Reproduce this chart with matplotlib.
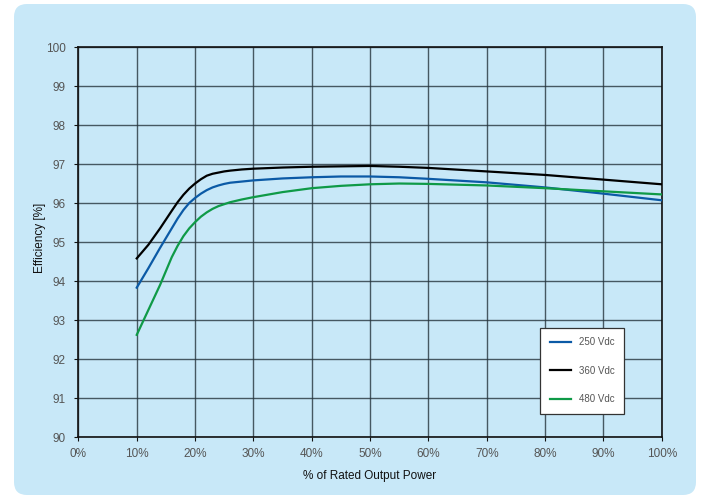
import numpy as np
import matplotlib.pyplot as plt
from matplotlib.patches import FancyBboxPatch

plt.rcParams['font.family'] = ['Liberation Sans', 'DejaVu Sans']

# load (% of rated output power) and efficiency readings
load = [10, 12, 14, 16, 17, 18, 19, 20, 21, 22, 23, 24, 25, 26, 28, 30,
        35, 40, 45, 50, 55, 60, 70, 80, 90, 100]
eff_250 = [93.83, 94.33, 94.85, 95.35, 95.60, 95.82, 96.00, 96.13, 96.24, 96.33, 96.40, 96.45,
           96.49, 96.52, 96.55, 96.58, 96.63, 96.66, 96.68, 96.68, 96.66, 96.62, 96.53,
           96.40, 96.24, 96.07]
eff_360 = [94.58, 94.93, 95.35, 95.80, 96.02, 96.21, 96.37, 96.50, 96.61, 96.70, 96.75, 96.78,
           96.81, 96.83, 96.86, 96.88, 96.91, 96.93, 96.94, 96.95, 96.93, 96.90, 96.81,
           96.72, 96.60, 96.48]
eff_480 = [92.62, 93.26, 93.90, 94.61, 94.90, 95.15, 95.35, 95.51, 95.65, 95.76, 95.85, 95.92,
           95.97, 96.02, 96.09, 96.15, 96.28, 96.38, 96.44, 96.48, 96.50, 96.49, 96.45,
           96.38, 96.30, 96.22]
labels = ["250 Vdc", "360 Vdc", "480 Vdc"]
colors = ["#0b5aa6", "#000000", "#0f9a47"]

bg = "#c8e8f8"

fig = plt.figure(figsize=(7.02, 4.99), dpi=100, facecolor="w")
card = FancyBboxPatch((0.14, 0.04), 6.82, 4.91, boxstyle="round,pad=0,rounding_size=0.13",
                      transform=fig.dpi_scale_trans, facecolor=bg, edgecolor="none", zorder=-10)
fig.add_artist(card)

ax = fig.add_axes([0.1117, 0.1242, 0.8309, 0.7816])
ax.set_facecolor("none")

for y, lab, c in zip([eff_250, eff_360, eff_480], labels, colors):
    ax.plot(load, y, color=c, lw=1.6, label=lab, zorder=3, solid_joinstyle="round")

ax.set_xlim(0, 100)
ax.set_ylim(90, 100)
ax.set_xticks(np.arange(0, 101, 10))
ax.set_xticklabels(["%d%%" % v for v in range(0, 101, 10)])
ax.set_yticks(np.arange(90, 101, 1))
ax.grid(True, color="#26343d", lw=1.0, alpha=0.8)
ax.set_axisbelow(True)
for s in ax.spines.values():
    s.set_color("#111111")
    s.set_linewidth(1.2)
ax.tick_params(direction="out", length=3, width=0.8, color="#111111",
               labelsize=8.5, labelcolor="#555555")
ax.tick_params(axis="x", pad=5)
ax.tick_params(axis="y", pad=6)

ax.set_xlabel("% of Rated Output Power", fontsize=8.5, color="#111111", labelpad=7)
ax.set_ylabel("Efficiency [%]", fontsize=8.5, color="#111111")
ax.yaxis.set_label_coords(-0.056, 0.51)

leg = ax.legend(loc="lower left", bbox_to_anchor=(0.791, 0.059), fontsize=7,
                fancybox=False, framealpha=1, edgecolor="#333333",
                labelspacing=1.9, handlelength=2.2, handletextpad=0.8,
                borderpad=1.0, borderaxespad=0)
leg.get_frame().set_linewidth(0.9)
for t in leg.get_texts():
    t.set_color("#555555")

plt.savefig("out.png", dpi=100, facecolor="w")
